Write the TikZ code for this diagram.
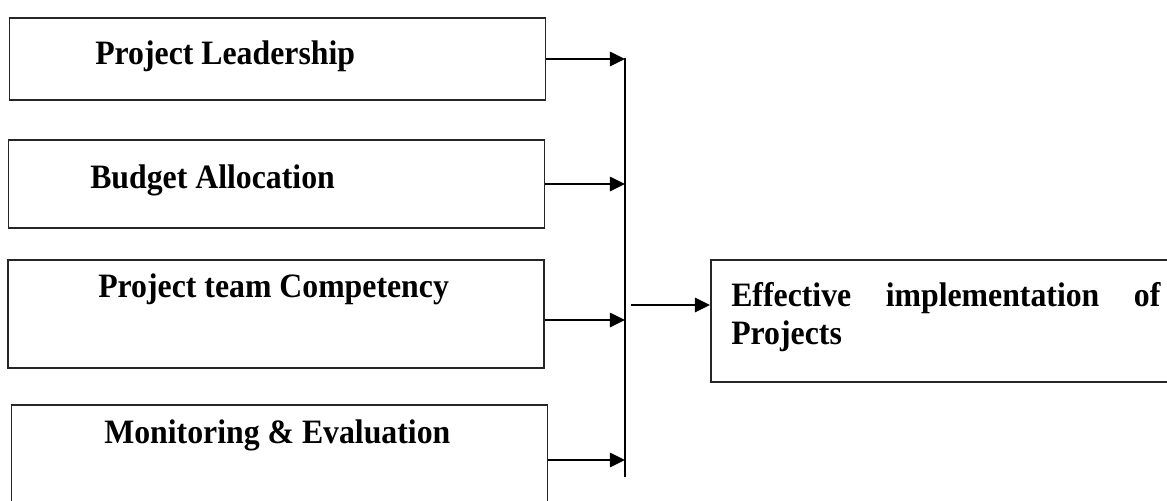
\documentclass[tikz,border=0pt]{standalone}
\usepackage{fontspec}
\setmainfont{Liberation Serif}[FakeStretch=0.93]
\usepackage{tikz}
\usetikzlibrary{positioning, arrows.meta}

\begin{document}
\begin{tikzpicture}[
  x=0.025cm, y=-0.025cm,
  box/.style={rectangle, draw=black!85, line width=1.3pt, minimum width=13.4cm, inner sep=0pt},
  lbl/.style={inner sep=0pt, anchor=base west, font=\bfseries\fontsize{24.3}{29}\selectfont},
  arrow/.style={-{Triangle[length=0.38cm, width=0.36cm]}, line width=1.4pt, draw=black}
]
\useasboundingbox (0,0) rectangle (1167,501);

% factor boxes on the left
\node[box, minimum height=2.05cm] (lead) at (277.5,59) {};
\node[box, minimum height=2.2cm] (budget) at (276.5,184) {};
\node[box, minimum height=2.7cm] (team) at (276,314) {};
\node[box, minimum height=2.75cm] (monitor) at (279.5,460) {};

\node[lbl] (leadtxt) at (95,64) {Project Leadership};
\node[lbl] (budgettxt) at (90,188) {Budget Allocation};
\node[lbl] (teamtxt) at (98,297) {Project team Competency};
\node[lbl] (monitortxt) at (104,443) {Monitoring \& Evaluation};

% outcome box
\node[box, minimum width=11.975cm, minimum height=3.05cm] (outcome) at (950.5,321) {};
\node[lbl, anchor=north west, text width=10.725cm, align=left,
  font=\bfseries\fontsize{24.3}{26.8}\selectfont] (outcometxt) at (731,282)
  {Effective\hfill implementation\hfill of\\Projects};

% collecting line
\coordinate (spinetop) at (625,58);
\coordinate (spinebot) at (625,477);
\coordinate (join) at (631,305);
\draw[line width=1.4pt] (spinetop) -- (spinebot);

\draw[arrow] (lead.east) -- (lead.east -| spinetop);
\draw[arrow] (budget.east) -- (budget.east -| spinetop);
\draw[arrow] ([yshift=-0.15cm]team.east) -- ([yshift=-0.15cm]team.east -| spinetop);
\draw[arrow] (monitor.east) -- (monitor.east -| spinetop);
\draw[arrow] (join) -- (join -| outcome.west);
\end{tikzpicture}
\end{document}
